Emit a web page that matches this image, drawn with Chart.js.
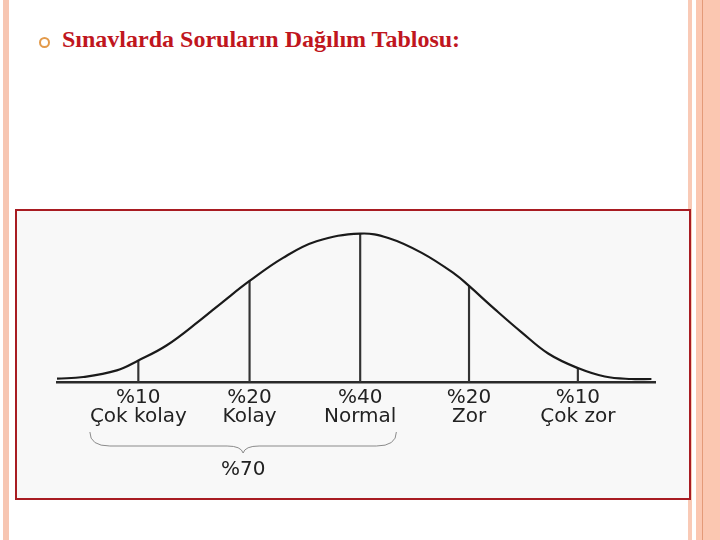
<!DOCTYPE html>
<html>
<head>
<meta charset="utf-8">
<script src="https://cdn.jsdelivr.net/npm/chart.js@4/dist/chart.umd.min.js"></script>
<style>
  html, body { margin: 0; padding: 0; }
  body { width: 720px; height: 540px; position: relative; background: #fff; overflow: hidden; }
  .serit { position: absolute; top: 0; height: 540px; }
  #baslik { position: absolute; left: 62px; top: 26px; font-family: "Liberation Serif", "Times New Roman", serif; font-weight: bold; font-size: 24px; color: #c0161e; white-space: nowrap; }
  #madde { position: absolute; left: 39px; top: 37px; width: 7px; height: 7px; border: 2.5px solid #e39a4a; border-radius: 50%; }
  #cerceve { position: absolute; left: 15px; top: 209px; width: 672px; height: 287px; border: 2px solid #a81c22; background: #f8f8f8; }
</style>
</head>
<body>
<div class="serit" style="left:3px;width:6px;background:#f7c6b2"></div>
<div class="serit" style="left:688px;width:4px;background:#f9cab6"></div>
<div class="serit" style="left:696px;width:24px;background:#fbc7b1"></div>
<div class="serit" style="left:702px;width:1px;background:#e49a78"></div>
<div id="madde"></div>
<div id="baslik">Sınavlarda Soruların Dağılım Tablosu:</div>
<div id="cerceve"><canvas id="grafik" width="672" height="287"></canvas></div>
<script>
// egri uzerinde okunan noktalar (x: 0-100 boyunca, y: yukseklik)
const egriX = [0, 4.4, 10.0, 13.6, 18.3, 23.9, 27.8, 32.2, 37.8, 43.4, 50.7, 55.4, 61.0, 66.6, 68.9, 73.2, 77.7, 82.2, 87.1, 91.6, 96.1, 99.4];
const egriY = [3.4, 5, 11.7, 21.7, 36.7, 62, 81, 101.7, 125, 141.7, 149.4, 145, 130, 108.4, 96.7, 73.4, 50, 28.4, 14, 5.5, 3, 3];

// dikey cizgiler ve etiketleri
const cizgiX = [13.6, 32.2, 50.7, 68.9, 87.1];
const cizgiY = [21.7, 101.7, 149.4, 96.7, 14];
const yuzdeler = ['%10', '%20', '%40', '%20', '%10'];
const duzeyler = ['Çok kolay', 'Kolay', 'Normal', 'Zor', 'Çok zor'];
const toplamEtiket = '%70';

const yaziAilesi = '"DejaVu Sans", "Liberation Sans", Arial, sans-serif';
const yaziBoyu = 20;

// %70 kume parantezi
const parantezEklentisi = {
    id: 'parantez',
    afterDraw(chart) {
        const ctx = chart.ctx;
        const x = chart.scales.x;
        ctx.save();
        ctx.font = yaziBoyu + 'px ' + yaziAilesi;
        const sol = x.getPixelForValue(cizgiX[0]) - ctx.measureText(duzeyler[0]).width / 2;
        const sag = x.getPixelForValue(cizgiX[2]) + ctx.measureText(duzeyler[2]).width / 2;
        const orta = (sol + sag) / 2;
        const ust = chart.chartArea.bottom + 50;
        const alt = ust + 21;
        const bel = ust + 14;
        ctx.strokeStyle = '#8a8a8a';
        ctx.lineWidth = 1;
        ctx.beginPath();
        ctx.moveTo(sol, ust);
        ctx.quadraticCurveTo(sol, bel, sol + 20, bel);
        ctx.lineTo(orta - 16, bel);
        ctx.quadraticCurveTo(orta - 2, bel, orta, alt);
        ctx.quadraticCurveTo(orta + 2, bel, orta + 16, bel);
        ctx.lineTo(sag - 20, bel);
        ctx.quadraticCurveTo(sag, bel, sag, ust);
        ctx.stroke();
        ctx.fillStyle = '#222';
        ctx.textAlign = 'center';
        ctx.textBaseline = 'alphabetic';
        ctx.fillText(toplamEtiket, orta, alt + 22);
        ctx.restore();
    }
};

new Chart(document.getElementById('grafik'), {
    type: 'line',
    data: {
        datasets: [
            {
                data: egriX.map((v, i) => ({ x: v, y: egriY[i] })),
                borderColor: '#1a1a1a',
                borderWidth: 2.2,
                pointRadius: 0,
                tension: 0.4,
                clip: false,
                fill: false
            },
            {
                type: 'bar',
                data: cizgiX.map((v, i) => ({ x: v, y: cizgiY[i] })),
                backgroundColor: '#333',
                barThickness: 1.5,
                grouped: false
            }
        ]
    },
    options: {
        responsive: false,
        animation: false,
        layout: { padding: { top: 22, left: 40, right: 34, bottom: 0 } },
        plugins: { legend: { display: false }, tooltip: { enabled: false } },
        scales: {
            x: {
                type: 'linear',
                min: 0,
                max: 100,
                offset: false,
                grid: { display: false, drawTicks: false, offset: false },
                border: { display: true, color: '#2a2a2a', width: 2.5 },
                afterBuildTicks: (axis) => { axis.ticks = cizgiX.map(v => ({ value: v })); },
                afterFit: (axis) => { axis.height = 116; },
                ticks: {
                    autoSkip: false,
                    maxRotation: 0,
                    padding: 6,
                    color: '#222',
                    font: { family: yaziAilesi, size: yaziBoyu, lineHeight: 0.95 },
                    callback: (value, index) => [yuzdeler[index], duzeyler[index]]
                }
            },
            y: { display: false, min: 0, max: 150 }
        }
    },
    plugins: [parantezEklentisi]
});
</script>
</body>
</html>
